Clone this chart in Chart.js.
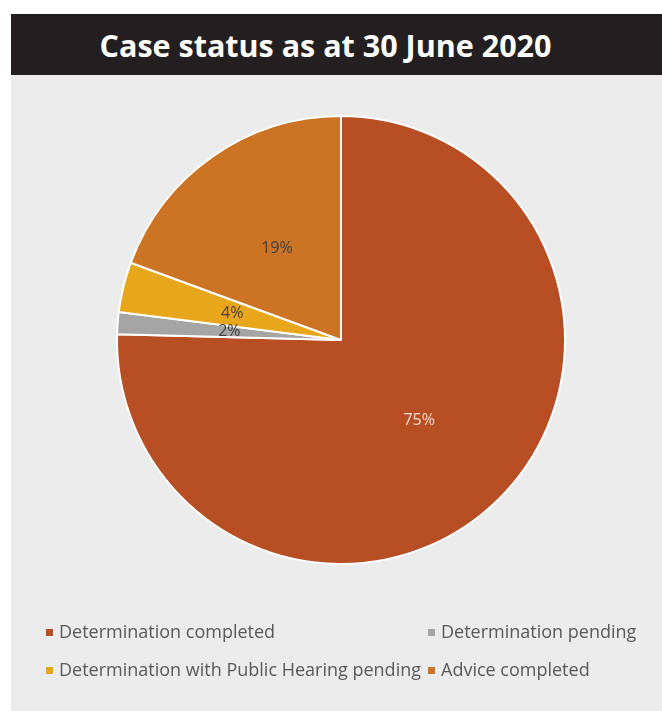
<!DOCTYPE html>
<html>
<head>
<meta charset="utf-8">
<script src="https://cdn.jsdelivr.net/npm/chart.js"></script>
<style>
    body { margin: 0; background: #ffffff; }
    #panel { position: absolute; left: 11px; top: 14px; width: 651px; height: 697px; background: #ebeceb; }
    #title { height: 61px; background: #231f20; color: #ffffff; font: 700 30.5px "Open Sans", sans-serif;
             text-align: center; line-height: 63px; padding-right: 22px; }
    #pieCanvas { position: absolute; left: 0; top: 61px; }
    #legend { position: absolute; left: 35px; top: 605px; width: 616px; font: 18px "Open Sans", sans-serif; color: #595959; }
    .item { position: absolute; white-space: nowrap; }
    .box { display: inline-block; width: 7px; height: 7px; margin-right: 6px; vertical-align: 2px; }
</style>
</head>
<body>
<div id="panel">
    <div id="title">Case status as at 30 June 2020</div>
    <canvas id="pieCanvas" width="651" height="636"></canvas>
    <div id="legend"></div>
</div>
<script>
// --- Données du graphique ---
const categories = [
    'Determination completed',
    'Determination pending',
    'Determination with Public Hearing pending',
    'Advice completed'
];
const shares = [75.4, 1.6, 3.6, 19.4];

// --- Couleurs ---
const sliceColours = ['#b84e24', '#a5a5a5', '#e8a71b', '#cc7324'];
const labelColours = ['#f4dccf', '#404040', '#404040', '#404040'];

// --- Étiquettes de pourcentage au centre de chaque part ---
const sliceLabels = {
    id: 'sliceLabels',
    afterDatasetsDraw(chart) {
        const ctx = chart.ctx;
        const meta = chart.getDatasetMeta(0);
        ctx.save();
        ctx.font = '16px "Open Sans", sans-serif';
        ctx.textAlign = 'center';
        ctx.textBaseline = 'middle';
        meta.data.forEach((arc, i) => {
            const pos = arc.tooltipPosition();
            ctx.fillStyle = labelColours[i];
            ctx.fillText(Math.round(shares[i]) + '%', pos.x, pos.y);
        });
        ctx.restore();
    }
};

const ctx = document.getElementById('pieCanvas').getContext('2d');
const caseChart = new Chart(ctx, {
    type: 'pie',
    data: {
        labels: categories,
        datasets: [{
            data: shares,
            backgroundColor: sliceColours,
            borderColor: '#ffffff',
            borderWidth: 2
        }]
    },
    options: {
        responsive: false,
        animation: false,
        radius: 224,
        layout: { padding: { left: 9, right: 0, top: 0, bottom: 106 } },
        plugins: {
            legend: { display: false },
            tooltip: { enabled: false }
        }
    },
    plugins: [sliceLabels]
});

// --- Légende en deux colonnes ---
const legendPos = [[0, 0], [382, 0], [0, 38], [382, 38]];
const legend = document.getElementById('legend');
categories.forEach((name, i) => {
    const item = document.createElement('div');
    item.className = 'item';
    item.style.left = legendPos[i][0] + 'px';
    item.style.top = legendPos[i][1] + 'px';
    item.innerHTML = '<span class="box" style="background:' + sliceColours[i] + '"></span>' + name;
    legend.appendChild(item);
});
</script>
</body>
</html>
